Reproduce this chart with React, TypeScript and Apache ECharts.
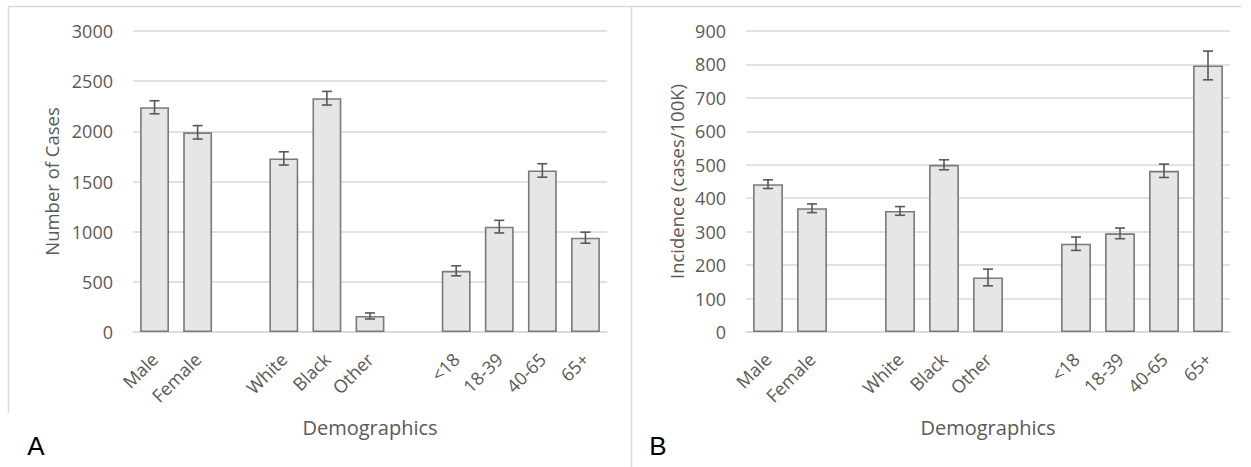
import React, { useEffect, useRef } from "react";
import * as echarts from "echarts";

const categories = ["Male", "Female", "", "White", "Black", "Other", "", "<18", "18-39", "40-65", "65+"];
const casesValues = [2240, 1990, null, 1730, 2330, 160, null, 610, 1050, 1610, 940];
const casesErrors = [65, 67, null, 66, 68, 30, null, 50, 63, 67, 55];
const incidenceValues = [442, 370, null, 362, 500, 163, null, 264, 295, 482, 797];
const incidenceErrors = [13, 13, null, 13, 15, 25, null, 20, 16, 20, 43];

const casesTicks = { min: 0, max: 3000, interval: 500 };
const incidenceTicks = { min: 0, max: 900, interval: 100 };

const FONT = "Open Sans";
const TEXT = "#595959";
const GRID = "#d9d9d9";

function errData(values: (number | null)[], errors: (number | null)[]) {
  const out: number[][] = [];
  values.forEach((v, i) => {
    if (v != null && errors[i] != null) out.push([i, v, errors[i] as number]);
  });
  return out;
}

const renderErr = (params: any, api: any) => {
  const i = api.value(0);
  const v = api.value(1);
  const e = api.value(2);
  const top = api.coord([i, v + e]);
  const bot = api.coord([i, v - e]);
  const hw = 5;
  const style = { stroke: "#595959", lineWidth: 1.6 };
  return {
    type: "group",
    children: [
      { type: "line", shape: { x1: top[0], y1: top[1], x2: bot[0], y2: bot[1] }, style },
      { type: "line", shape: { x1: top[0] - hw, y1: top[1], x2: top[0] + hw, y2: top[1] }, style },
      { type: "line", shape: { x1: bot[0] - hw, y1: bot[1], x2: bot[0] + hw, y2: bot[1] }, style },
    ],
  };
};

function xAxisFor(gridIndex: number) {
  return {
    type: "category",
    gridIndex,
    data: categories,
    axisLine: { show: true, lineStyle: { color: GRID, width: 1.5 } },
    axisTick: { show: false },
    axisLabel: {
      rotate: 45,
      interval: 0,
      margin: 24,
      color: TEXT,
      fontFamily: FONT,
      fontSize: 18,
    },
    name: "Demographics",
    nameLocation: "middle",
    nameGap: 85,
    nameTextStyle: { color: TEXT, fontFamily: FONT, fontSize: 20 },
  };
}

function yAxisFor(gridIndex: number, ticks: any, name: string, nameGap: number) {
  return {
    type: "value",
    gridIndex,
    min: ticks.min,
    max: ticks.max,
    interval: ticks.interval,
    axisLine: { show: false },
    axisTick: { show: false },
    splitLine: { show: true, lineStyle: { color: GRID, width: 1.5 } },
    axisLabel: {
      margin: 20,
      color: TEXT,
      fontFamily: FONT,
      fontSize: 18,
      formatter: (v: number) => String(v),
    },
    name,
    nameLocation: "middle",
    nameGap,
    nameTextStyle: { color: TEXT, fontFamily: FONT, fontSize: 18.5 },
  };
}

const barStyle = { color: "#e6e6e6", borderColor: "#7a7a7a", borderWidth: 1.6 };

export default function App() {
  const ref = useRef<HTMLDivElement>(null);
  useEffect(() => {
    document.body.style.margin = "0";
    const chart = echarts.init(ref.current!, null, { renderer: "svg" });
    chart.setOption({
      animation: false,
      backgroundColor: "#ffffff",
      grid: [
        { left: 133, top: 31, width: 474, height: 301 },
        { left: 746, top: 31, width: 484, height: 301 },
      ],
      xAxis: [xAxisFor(0), xAxisFor(1)],
      yAxis: [
        yAxisFor(0, casesTicks, "Number of Cases", 72),
        yAxisFor(1, incidenceTicks, "Incidence (cases/100K)", 60),
      ],
      series: [
        {
          type: "bar",
          xAxisIndex: 0,
          yAxisIndex: 0,
          data: casesValues.map((v) => (v == null ? "-" : v)),
          barCategoryGap: "33%",
          itemStyle: barStyle,
        },
        {
          type: "custom",
          xAxisIndex: 0,
          yAxisIndex: 0,
          data: errData(casesValues, casesErrors),
          encode: { x: 0, y: 1 },
          renderItem: renderErr,
          z: 5,
        },
        {
          type: "bar",
          xAxisIndex: 1,
          yAxisIndex: 1,
          data: incidenceValues.map((v) => (v == null ? "-" : v)),
          barCategoryGap: "32%",
          itemStyle: barStyle,
        },
        {
          type: "custom",
          xAxisIndex: 1,
          yAxisIndex: 1,
          data: errData(incidenceValues, incidenceErrors),
          encode: { x: 0, y: 1 },
          renderItem: renderErr,
          z: 5,
        },
      ],
      graphic: [
        { type: "line", shape: { x1: 8, y1: 6.5, x2: 1241, y2: 6.5 }, style: { stroke: GRID, lineWidth: 1.5 } },
        { type: "line", shape: { x1: 8.5, y1: 6, x2: 8.5, y2: 413 }, style: { stroke: GRID, lineWidth: 1.5 } },
        { type: "line", shape: { x1: 631.5, y1: 6, x2: 631.5, y2: 467 }, style: { stroke: GRID, lineWidth: 1.5 } },
        {
          type: "text",
          x: 36,
          y: 446,
          style: { text: "A", fill: "#000", fontFamily: "Liberation Sans", fontSize: 26, textAlign: "center", textVerticalAlign: "middle" },
        },
        {
          type: "text",
          x: 658,
          y: 446,
          style: { text: "B", fill: "#000", fontFamily: "Liberation Sans", fontSize: 26, textAlign: "center", textVerticalAlign: "middle" },
        },
      ],
    });
    return () => chart.dispose();
  }, []);
  return <div ref={ref} style={{ width: 1251, height: 467 }} />;
}
